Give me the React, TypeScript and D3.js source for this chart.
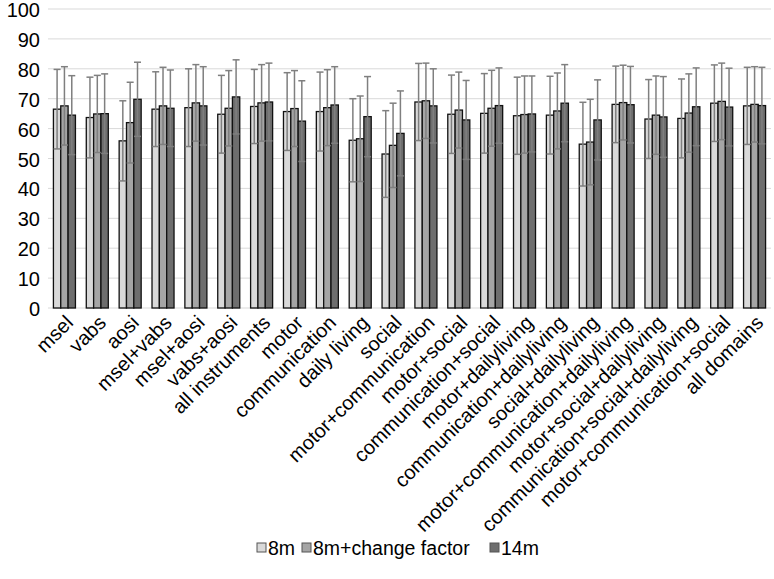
import React, { useEffect } from "react";
import * as d3 from "d3";

const categories = [
  "msel", "vabs", "aosi", "msel+vabs", "msel+aosi", "vabs+aosi", "all instruments",
  "motor", "communication", "daily living", "social", "motor+communication",
  "motor+social", "communication+social", "motor+dailyliving",
  "communication+dailyliving", "social+dailyliving",
  "motor+communication+dailyliving", "motor+social+dailyliving",
  "communication+social+dailyliving", "motor+communication+social", "all domains",
];

const seriesNames = ["8m", "8m+change factor", "14m"];

const mean8m = [66.5, 63.7, 55.9, 66.5, 67.0, 64.8, 67.4, 65.7, 65.7, 56.1, 51.5, 68.9, 64.8, 65.1, 64.3, 64.5, 54.8, 68.1, 63.2, 63.4, 68.5, 67.6];
const meanChange = [67.6, 64.9, 62.0, 67.6, 68.6, 66.8, 68.6, 66.7, 67.0, 56.6, 54.4, 69.3, 66.2, 66.8, 64.7, 65.9, 55.5, 68.7, 64.5, 65.2, 69.1, 68.1];
const mean14m = [64.5, 65.0, 69.8, 66.8, 67.6, 70.6, 68.9, 62.5, 67.9, 64.0, 58.4, 67.6, 62.9, 67.7, 64.9, 68.5, 62.9, 68.0, 63.9, 67.3, 67.2, 67.7];

const sd8m = [13.3, 13.5, 13.4, 12.5, 13.0, 13.0, 12.4, 13.0, 13.2, 13.9, 14.5, 12.9, 13.1, 13.3, 12.9, 13.0, 14.0, 12.8, 13.2, 13.2, 12.8, 12.9];
const sdChange = [13.1, 12.9, 13.5, 12.9, 12.8, 12.6, 12.8, 12.7, 12.7, 14.3, 14.1, 12.6, 12.7, 12.7, 12.9, 12.7, 14.3, 12.5, 13.1, 13.1, 12.8, 12.6];
const sd14m = [13.2, 13.3, 12.4, 12.8, 13.1, 12.4, 13.0, 13.5, 12.8, 13.4, 14.2, 12.4, 13.2, 12.6, 12.7, 12.9, 13.4, 12.8, 13.5, 13.0, 13.0, 12.8];

const yTicks = [0, 10, 20, 30, 40, 50, 60, 70, 80, 90, 100];

const means = [mean8m, meanChange, mean14m];
const sds = [sd8m, sdChange, sd14m];
const colors = ["#d9d9d9", "#a5a5a5", "#6e6e6e"];

const W = 774;
const H = 579;
const FONT = "'Liberation Sans', Arial, sans-serif";

export default function App() {
  useEffect(() => {
    document.body.style.margin = "0";
  }, []);

  const x = d3.scaleBand<string>().domain(categories).range([48, 771]).paddingInner(0.33).paddingOuter(0.165);
  const xs = d3.scaleBand<string>().domain(seriesNames).range([0, x.bandwidth()]);
  const y = d3.scaleLinear().domain([0, 100]).range([308, 9]);
  const bw = xs.bandwidth();

  const legendItems = [
    { name: seriesNames[0], x: 257 },
    { name: seriesNames[1], x: 302 },
    { name: seriesNames[2], x: 490 },
  ];

  return (
    <svg width={W} height={H} style={{ display: "block", background: "#fff" }} fontFamily={FONT}>
      {yTicks.map((t) => (
        <g key={t}>
          <line x1={48} x2={771} y1={y(t)} y2={y(t)} stroke="#d9d9d9" strokeWidth={1} />
          <text x={40} y={y(t) + 1} dy="0.35em" textAnchor="end" fontSize={20} fill="#000">
            {t}
          </text>
        </g>
      ))}
      {categories.map((c, i) => (
        <g key={c} transform={`translate(${x(c)},0)`}>
          {seriesNames.map((s, k) => (
            <rect
              key={s}
              x={xs(s)}
              y={y(means[k][i])}
              width={bw}
              height={y(0) - y(means[k][i])}
              fill={colors[k]}
              stroke="#111"
              strokeWidth={1.3}
            />
          ))}
          {seriesNames.map((s, k) => {
            const cx = (xs(s) as number) + bw / 2;
            const hi = y(means[k][i] + sds[k][i]);
            const lo = y(means[k][i] - sds[k][i]);
            return (
              <g key={s} stroke="#7f7f7f" strokeWidth={1.5}>
                <line x1={cx} x2={cx} y1={hi} y2={lo} />
                <line x1={cx - 3.5} x2={cx + 3.5} y1={hi} y2={hi} />
                <line x1={cx - 3.5} x2={cx + 3.5} y1={lo} y2={lo} />
              </g>
            );
          })}
        </g>
      ))}
      {categories.map((c) => {
        const cx = (x(c) as number) + x.bandwidth() / 2;
        return (
          <text
            key={c}
            transform={`translate(${cx + 5},${319}) rotate(-45)`}
            textAnchor="end"
            dy="0.35em"
            fontSize={20}
            fill="#000"
          >
            {c}
          </text>
        );
      })}
      {legendItems.map((l, k) => (
        <g key={l.name}>
          <rect x={l.x} y={543} width={9} height={9} fill={colors[k]} stroke="#555" strokeWidth={1} />
          <text x={l.x + 11} y={548} dy="0.35em" fontSize={19.5} fill="#000">
            {l.name}
          </text>
        </g>
      ))}
    </svg>
  );
}
